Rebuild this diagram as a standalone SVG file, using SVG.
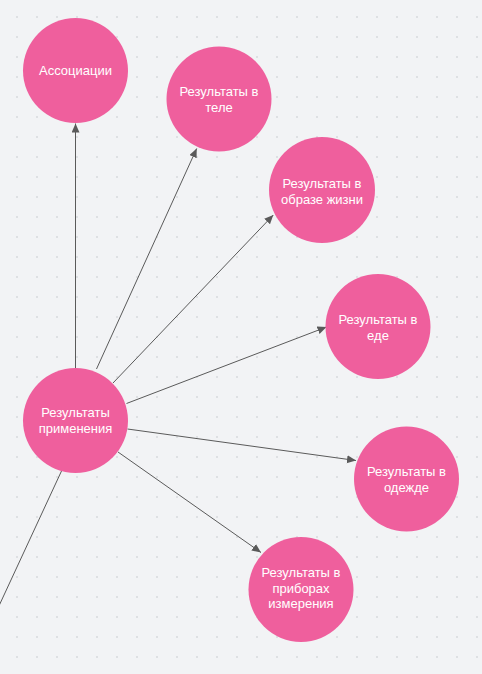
<svg xmlns="http://www.w3.org/2000/svg" width="482" height="674" viewBox="0 0 482 674">
  <defs>
    <pattern id="dots" width="20" height="20" patternUnits="userSpaceOnUse">
      <rect x="16.5" y="16.5" width="1" height="1" fill="#a3a6aa"/>
    </pattern>
    <marker id="arrow" markerUnits="userSpaceOnUse" markerWidth="12" markerHeight="10" refX="9" refY="4" orient="auto">
      <path d="M0,0 L9,4 L0,8 Z" fill="#5a5a5a"/>
    </marker>
  </defs>
  <style>
    .node { fill: #ef5f9d; }
    .lbl { fill: #ffffff; font-family: "Liberation Sans", Arial, sans-serif; font-size: 13px; text-anchor: middle; }
    .edge { stroke: #5a5a5a; stroke-width: 1; fill: none; }
  </style>
  <rect width="482" height="674" fill="#f2f3f5"/>
  <rect width="482" height="674" fill="url(#dots)"/>

  <g id="connectors">
    <line class="edge" x1="75.5" y1="368" x2="75.5" y2="123.5" marker-end="url(#arrow)"/>
    <line class="edge" x1="96.5" y1="369" x2="196.7" y2="148.5" marker-end="url(#arrow)"/>
    <line class="edge" x1="113" y1="383" x2="273.3" y2="215" marker-end="url(#arrow)"/>
    <line class="edge" x1="126.5" y1="403.5" x2="326.5" y2="327" marker-end="url(#arrow)"/>
    <line class="edge" x1="127.5" y1="429" x2="356" y2="460.5" marker-end="url(#arrow)"/>
    <line class="edge" x1="118" y1="452" x2="261" y2="552.5" marker-end="url(#arrow)"/>
    <line class="edge" x1="61.5" y1="471" x2="-2" y2="608"/>
  </g>

  <g id="node-associations">
    <circle class="node" cx="75.5" cy="70.5" r="52.5"/>
    <text class="lbl" x="75.5" y="75">Ассоциации</text>
  </g>
  <g id="node-body">
    <circle class="node" cx="219" cy="99" r="52.5"/>
    <text class="lbl" x="219" y="95.5">Результаты в</text>
    <text class="lbl" x="219" y="111.5">теле</text>
  </g>
  <g id="node-lifestyle">
    <circle class="node" cx="322" cy="190" r="53"/>
    <text class="lbl" x="322" y="187.5">Результаты в</text>
    <text class="lbl" x="322" y="203.5">образе жизни</text>
  </g>
  <g id="node-food">
    <circle class="node" cx="378" cy="326.5" r="52.5"/>
    <text class="lbl" x="378" y="323.5">Результаты в</text>
    <text class="lbl" x="378" y="339.5">еде</text>
  </g>
  <g id="node-clothes">
    <circle class="node" cx="406.5" cy="479" r="52.5"/>
    <text class="lbl" x="406.5" y="476">Результаты в</text>
    <text class="lbl" x="406.5" y="492">одежде</text>
  </g>
  <g id="node-devices">
    <circle class="node" cx="301" cy="589.5" r="52.5"/>
    <text class="lbl" x="301" y="577">Результаты в</text>
    <text class="lbl" x="301" y="592.5">приборах</text>
    <text class="lbl" x="301" y="608">измерения</text>
  </g>
  <g id="node-application">
    <circle class="node" cx="75.5" cy="420.5" r="52.5"/>
    <text class="lbl" x="75.5" y="417">Результаты</text>
    <text class="lbl" x="75.5" y="432.5">применения</text>
  </g>
</svg>
